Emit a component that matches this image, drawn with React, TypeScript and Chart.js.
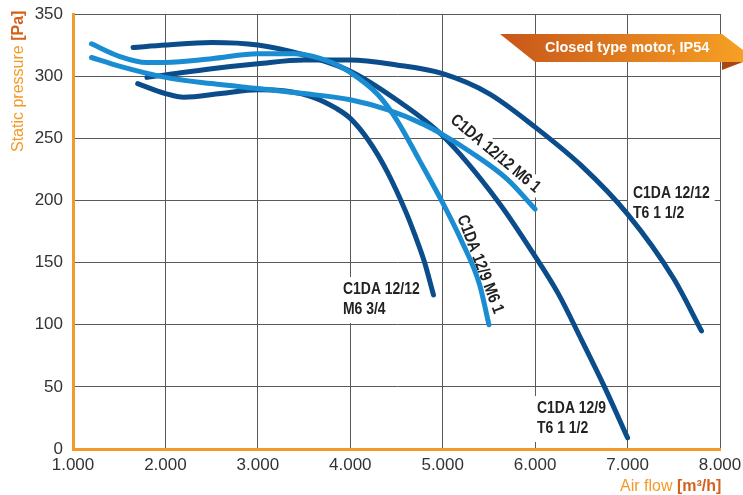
import React, { useEffect, useRef } from "react";
import { Chart, registerables } from "chart.js";

Chart.register(...registerables);

// ---- data ----
const xTickValues = [1000, 2000, 3000, 4000, 5000, 6000, 7000, 8000];
const yTickValues = [0, 50, 100, 150, 200, 250, 300, 350];

const seriesNames = [
  "C1DA 12/9 T6 1 1/2",
  "C1DA 12/12 T6 1 1/2",
  "C1DA 12/12 M6 3/4",
  "C1DA 12/12 M6 1",
  "C1DA 12/9 M6 1",
];

const flow_12_9_T6 = [1650, 2000, 2500, 3000, 3500, 4000, 4500, 5000, 5600, 6000, 6250, 6500, 6750, 7000];
const pres_12_9_T6 = [323, 325, 327, 325, 317, 304, 281, 252, 199, 155, 125, 88, 50, 9];

const flow_12_12_T6 = [1800, 2000, 2500, 3000, 3500, 4000, 4500, 5000, 5500, 6000, 6500, 7000, 7500, 7800];
const pres_12_12_T6 = [299, 301, 306, 310, 313, 313, 309, 302, 286, 259, 228, 189, 137, 95];

const flow_12_12_M6_34 = [1700, 2000, 2200, 2600, 3000, 3300, 3600, 3850, 4000, 4200, 4400, 4600, 4700, 4800, 4900];
const pres_12_12_M6_34 = [294, 286, 283, 286, 289, 288, 283, 274, 266, 248, 223, 191, 172, 151, 124];

const flow_12_12_M6_1 = [1200, 1500, 2000, 2500, 3000, 3500, 4000, 4400, 4800, 5000, 5300, 5700, 6000];
const pres_12_12_M6_1 = [315, 308, 299, 294, 290, 286, 281, 273, 261, 253, 239, 217, 193];

const flow_12_9_M6_1 = [1200, 1500, 1800, 2000, 2500, 3000, 3400, 3800, 4000, 4300, 4500, 4750, 5000, 5200, 5400, 5500];
const pres_12_9_M6_1 = [326, 316, 311, 311, 314, 318, 318, 311, 303, 285, 265, 232, 198, 168, 132, 100];

const DARK = "#0b4c8b";
const LIGHT = "#1a8dd2";
const ORANGE = "#f39a2a";
const ORANGE_DARK = "#d4621c";
const LABEL_FONT = "bold 17px 'Liberation Sans', Arial, sans-serif";
const SQUEEZE = 0.82;

function pts(xs: number[], ys: number[]) {
  return xs.map((x, i) => ({ x, y: ys[i] }));
}

const overlayPlugin = {
  id: "overlay",
  beforeDatasetsDraw(chart: any) {
    const ctx = chart.ctx as CanvasRenderingContext2D;
    ctx.save();
    ctx.font = LABEL_FONT;
    const block = (lines: string[], x: number, y: number) => {
      let w = 0;
      lines.forEach((l) => (w = Math.max(w, ctx.measureText(l).width * SQUEEZE)));
      ctx.fillStyle = "#fff";
      ctx.fillRect(x - 5, y - 17, w + 10, lines.length * 20 + 6);
      ctx.save();
      ctx.translate(x, y);
      ctx.scale(SQUEEZE, 1);
      ctx.fillStyle = "#222";
      ctx.textAlign = "left";
      ctx.textBaseline = "alphabetic";
      lines.forEach((l, i) => ctx.fillText(l, 0, i * 20));
      ctx.restore();
    };
    block(["C1DA 12/12", "T6 1 1/2"], 633, 198);
    block(["C1DA 12/9", "T6 1 1/2"], 537, 413);
    block(["C1DA 12/12", "M6 3/4"], 343, 294);
    const rotated = (t: string, cx: number, cy: number, deg: number) => {
      ctx.save();
      ctx.translate(cx, cy);
      ctx.rotate((deg * Math.PI) / 180);
      ctx.scale(SQUEEZE, 1);
      const w = ctx.measureText(t).width;
      ctx.fillStyle = "#fff";
      ctx.fillRect(-w / 2 - 4, -9, w + 8, 18);
      ctx.fillStyle = "#222";
      ctx.textAlign = "center";
      ctx.textBaseline = "middle";
      ctx.fillText(t, 0, 1);
      ctx.restore();
    };
    rotated("C1DA 12/12 M6 1", 496, 153, 40);
    rotated("C1DA 12/9 M6 1", 481, 264, 69);
    ctx.restore();
  },
  afterDraw(chart: any) {
    const ctx = chart.ctx as CanvasRenderingContext2D;
    ctx.save();
    // banner
    const g = ctx.createLinearGradient(500, 0, 743, 0);
    g.addColorStop(0, "#c8561a");
    g.addColorStop(1, "#f6a024");
    ctx.fillStyle = g;
    ctx.beginPath();
    ctx.moveTo(500, 34);
    ctx.lineTo(722, 34);
    ctx.lineTo(743, 50);
    ctx.lineTo(743, 62);
    ctx.lineTo(535, 62);
    ctx.closePath();
    ctx.fill();
    ctx.fillStyle = "#a84812";
    ctx.beginPath();
    ctx.moveTo(722, 62);
    ctx.lineTo(743, 62);
    ctx.lineTo(722, 70);
    ctx.closePath();
    ctx.fill();
    ctx.fillStyle = "#fff";
    ctx.font = "bold 14.5px 'Liberation Sans', Arial, sans-serif";
    ctx.textAlign = "left";
    ctx.textBaseline = "alphabetic";
    ctx.fillText("Closed type motor, IP54", 545, 52);

    // y title
    ctx.save();
    ctx.translate(23, 152);
    ctx.rotate(-Math.PI / 2);
    ctx.font = "16px 'Liberation Sans', Arial, sans-serif";
    ctx.fillStyle = ORANGE;
    const t1 = "Static pressure ";
    ctx.fillText(t1, 0, 0);
    const w1 = ctx.measureText(t1).width;
    ctx.font = "bold 16px 'Liberation Sans', Arial, sans-serif";
    ctx.fillStyle = ORANGE_DARK;
    ctx.fillText("[Pa]", w1, 0);
    ctx.restore();

    // x title
    ctx.font = "16px 'Liberation Sans', Arial, sans-serif";
    ctx.fillStyle = ORANGE;
    const t2 = "Air flow ";
    ctx.fillText(t2, 620, 491);
    const w2 = ctx.measureText(t2).width;
    ctx.font = "bold 16px 'Liberation Sans', Arial, sans-serif";
    ctx.fillStyle = ORANGE_DARK;
    ctx.fillText("[m\u00B3/h]", 620 + w2, 491);
    ctx.restore();
  },
};

export default function App() {
  const ref = useRef<HTMLCanvasElement | null>(null);
  useEffect(() => {
    if (!ref.current) return;
    const mk = (i: number, xs: number[], ys: number[], color: string) => ({
      label: seriesNames[i],
      data: pts(xs, ys),
      borderColor: color,
      backgroundColor: color,
      borderWidth: 5,
      borderCapStyle: "round" as const,
      borderJoinStyle: "round" as const,
      pointRadius: 0,
      cubicInterpolationMode: "monotone" as const,
      fill: false,
    });
    const chart = new Chart(ref.current, {
      type: "line",
      data: {
        datasets: [
          mk(3, flow_12_12_M6_1, pres_12_12_M6_1, LIGHT),
          mk(4, flow_12_9_M6_1, pres_12_9_M6_1, LIGHT),
          mk(2, flow_12_12_M6_34, pres_12_12_M6_34, DARK),
          mk(1, flow_12_12_T6, pres_12_12_T6, DARK),
          mk(0, flow_12_9_T6, pres_12_9_T6, DARK),
        ],
      },
      options: {
        responsive: false,
        animation: false,
        devicePixelRatio: 1,
        layout: { padding: { top: 14, right: 23, left: 0, bottom: 0 } },
        plugins: { legend: { display: false }, tooltip: { enabled: false } },
        scales: {
          x: {
            type: "linear",
            min: 1000,
            max: 8000,
            afterBuildTicks: (s: any) => {
              s.ticks = xTickValues.map((v) => ({ value: v }));
            },
            afterFit: (s: any) => {
              s.height = 46;
              s.paddingLeft = 0;
              s.paddingRight = 0;
            },
            ticks: {
              padding: 6,
              color: "#333",
              font: { size: 17, family: "'Liberation Sans', Arial, sans-serif" },
              maxRotation: 0,
              callback: (v: any) => (Number(v) / 1000).toFixed(3),
            },
            grid: { color: "#5a5a5a", lineWidth: 1, drawTicks: false },
            border: { color: ORANGE, width: 3 },
          },
          y: {
            type: "linear",
            min: 0,
            max: 350,
            afterBuildTicks: (s: any) => {
              s.ticks = yTickValues.map((v) => ({ value: v }));
            },
            afterFit: (s: any) => {
              s.width = 73;
              s.paddingTop = 0;
              s.paddingBottom = 0;
            },
            ticks: {
              padding: 10,
              color: "#333",
              font: { size: 17, family: "'Liberation Sans', Arial, sans-serif" },
            },
            grid: { color: "#5a5a5a", lineWidth: 1, drawTicks: false },
            border: { color: ORANGE, width: 3 },
          },
        },
      },
      plugins: [overlayPlugin],
    });
    return () => chart.destroy();
  }, []);
  return (
    <div style={{ position: "fixed", left: 0, top: 0, width: 743, height: 495, background: "#fff" }}>
      <canvas ref={ref} width={743} height={495} style={{ display: "block", width: 743, height: 495 }} />
    </div>
  );
}
